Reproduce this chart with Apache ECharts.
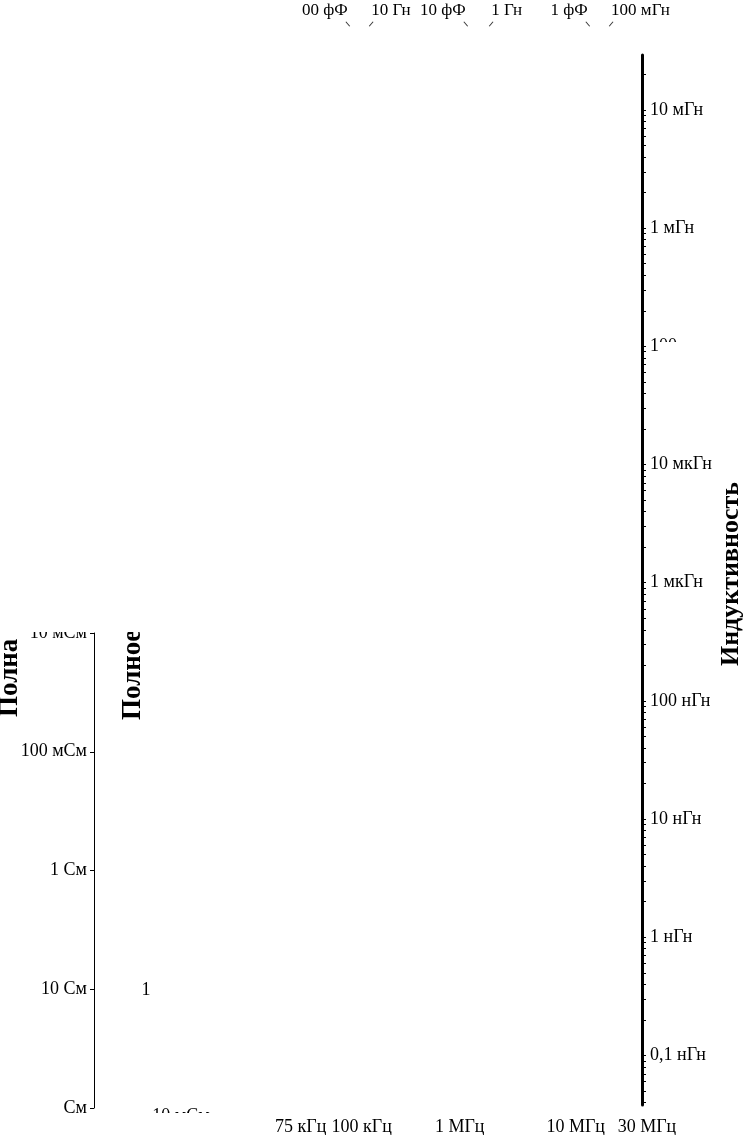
<!DOCTYPE html>
<html><head><meta charset="utf-8">
<script src="https://cdn.jsdelivr.net/npm/echarts@6/dist/echarts.min.js"></script>
<style>html,body{margin:0;padding:0;background:#fff}#c{width:745px;height:1135px}</style>
</head><body><div id="c"></div>
<script>
// Right axis: inductance decades, value = log10(L / H)
const inductanceExp = [-2, -3, -4, -5, -6, -7, -8, -9, -10];
const inductanceLabels = ["10 мГн", "1 мГн", "100", "10 мкГн", "1 мкГн", "100 нГн", "10 нГн", "1 нГн", "0,1 нГн"];
// Left axis: admittance decades, value = log10(Y / S)
const admittanceExp = [-2, -1, 0, 1, 2];
const admittanceLabels = ["10 мСм", "100 мСм", "1 См", "10 См", "См"];
// Bottom axis: frequency, Hz
const freqHz = [75e3, 1e5, 1e6, 1e7, 3e7];
const freqLabels = ["75 кГц", "100 кГц", "1 МГц", "10 МГц", "30 МГц"];
// Top edge: frequency where the capacitance / inductance lines leave the plot
const capTopHz = [1.06e5, 1.02e6, 1.06e7];
const capTopLabels = ["00 фФ", "10 фФ", "1 фФ"];
const indTopHz = [1.66e5, 1.66e6, 1.66e7];
const indTopLabels = ["10 Гн", "1 Гн", "100 мГн"];

const lg = Math.log10;
const FONT = '"Liberation Serif", "DejaVu Serif", serif';
const F_MIN = 2.910, F_MAX = 7.4775;     // log10(Hz) range of the frequency scale
const L_MIN = -10.419, L_MAX = -1.535;   // log10(H) range of the inductance scale

function nearest(arr, v) {
  let b = 0;
  arr.forEach((a, i) => { if (Math.abs(a - v) < Math.abs(arr[b] - v)) b = i; });
  return b;
}
const freqLog = freqHz.map(lg), capLog = capTopHz.map(lg), indLog = indTopHz.map(lg);

// minor log ticks on the inductance axis
const indTicks = [];
for (let d = -11; d <= -1; d++) for (let k = 1; k <= 9; k++) {
  const v = d + lg(k);
  if (v >= L_MIN && v <= L_MAX) indTicks.push(v);
}

// label offsets for the crowded bottom labels (style only)
const bottomPad = [[0, 58, 0, 0], [0, 0, 0, 34], [0, 10, 0, 0], [0, 18, 0, 0], [0, 0, 0, 10]];
const bRich = {};
bottomPad.forEach((p, i) => { bRich['b' + i] = { padding: p, fontFamily: FONT, fontSize: 18, color: '#000' }; });

const txt = { fontFamily: FONT, fontSize: 18, color: '#000' };

const chart = echarts.init(document.getElementById('c'));
chart.setOption({
  animation: false,
  backgroundColor: '#fff',
  grid: [
    { left: 94, right: 103, top: 55, bottom: 30, outerBoundsMode: 'none', containLabel: false },
    { left: 94, width: 20, top: 633, bottom: 27, outerBoundsMode: 'none', containLabel: false },
    { left: 94, right: 103, top: 21, height: 6, outerBoundsMode: 'none', containLabel: false }
  ],
  xAxis: [
    { gridIndex: 0, type: 'value', min: F_MIN, max: F_MAX, position: 'bottom',
      axisLine: { show: false, onZero: false }, axisTick: { show: false }, splitLine: { show: false },
      axisLabel: { customValues: freqLog, margin: 13, rich: bRich, showMinLabel: true, showMaxLabel: true,
        formatter: v => { const i = nearest(freqLog, v); return '{b' + i + '|' + freqLabels[i] + '}'; } } },
    { gridIndex: 1, type: 'value', min: 0, max: 1, show: false },
    { gridIndex: 2, type: 'value', min: F_MIN, max: F_MAX, position: 'top',
      axisLine: { show: false, onZero: false }, axisTick: { show: false }, splitLine: { show: false },
      axisLabel: { customValues: capLog, align: 'right', margin: 2, fontFamily: FONT, fontSize: 17, color: '#000',
        formatter: v => capTopLabels[nearest(capLog, v)] } },
    { gridIndex: 2, type: 'value', min: F_MIN, max: F_MAX, position: 'top',
      axisLine: { show: false, onZero: false }, axisTick: { show: false }, splitLine: { show: false },
      axisLabel: { customValues: indLog, align: 'left', margin: 2, fontFamily: FONT, fontSize: 17, color: '#000',
        formatter: v => indTopLabels[nearest(indLog, v)] } }
  ],
  yAxis: [
    { gridIndex: 0, type: 'value', position: 'right', min: L_MIN, max: L_MAX, splitLine: { show: false },
      axisLine: { show: true, onZero: false, lineStyle: { color: '#000', width: 3 } },
      axisTick: { show: true, customValues: indTicks, length: 4, lineStyle: { color: '#000', width: 1 } },
      axisLabel: Object.assign({ customValues: inductanceExp, margin: 8, showMinLabel: true, showMaxLabel: true,
        formatter: v => inductanceLabels[nearest(inductanceExp, v)] }, txt),
      name: 'Индуктивность', nameLocation: 'middle', nameRotate: 90, nameGap: 76, nameMoveOverlap: false,
      nameTextStyle: { fontFamily: FONT, fontSize: 26, fontWeight: 'bold', color: '#000', padding: [0, 0, 0, 12] } },
    { gridIndex: 1, type: 'value', position: 'left', inverse: true, min: -2, max: 2, interval: 1,
      splitLine: { show: false },
      axisLine: { show: true, onZero: false, lineStyle: { color: '#000', width: 1 } },
      axisTick: { show: true, length: 4, lineStyle: { color: '#000', width: 1 } },
      axisLabel: Object.assign({ margin: 7, showMinLabel: true, showMaxLabel: true,
        formatter: v => admittanceLabels[nearest(admittanceExp, v)] }, txt) },
    { gridIndex: 2, type: 'value', min: 0, max: 1, show: false }
  ],
  series: [
    { type: 'scatter', xAxisIndex: 2, yAxisIndex: 2, silent: true, clip: false,
      data: capLog.map(x => [x, 0.5]), symbol: 'rect', symbolSize: [1, 6], symbolRotate: 40,
      itemStyle: { color: '#000' } },
    { type: 'scatter', xAxisIndex: 3, yAxisIndex: 2, silent: true, clip: false,
      data: indLog.map(x => [x, 0.5]), symbol: 'rect', symbolSize: [1, 6], symbolRotate: -40,
      itemStyle: { color: '#000' } }
  ],
  graphic: [
    { type: 'text', x: 10, y: 717, rotation: Math.PI / 2, silent: true,
      style: { text: 'Полна', fontFamily: FONT, fontSize: 27, fontWeight: 'bold', fill: '#000', align: 'left', verticalAlign: 'middle' } },
    { type: 'text', x: 133, y: 720, rotation: Math.PI / 2, silent: true,
      style: { text: 'Полное', fontFamily: FONT, fontSize: 27, fontWeight: 'bold', fill: '#000', align: 'left', verticalAlign: 'middle' } },
    { type: 'text', x: 146, y: 990, silent: true,
      style: { text: '1', fontFamily: FONT, fontSize: 18, fill: '#000', align: 'center', verticalAlign: 'middle' } },
    { type: 'text', x: 181, y: 1116, silent: true,
      style: { text: '10 мСм', fontFamily: FONT, fontSize: 18, fill: '#000', align: 'center', verticalAlign: 'middle' } },
    { type: 'rect', z: 100, silent: true, shape: { x: 0, y: 0, width: 160, height: 632 }, style: { fill: '#fff' } },
    { type: 'rect', z: 100, silent: true, shape: { x: 148, y: 1113, width: 72, height: 22 }, style: { fill: '#fff' } },
    { type: 'rect', z: 100, silent: true, shape: { x: 659, y: 342, width: 24, height: 14 }, style: { fill: '#fff' } }
  ]
});
</script>
</body></html>
